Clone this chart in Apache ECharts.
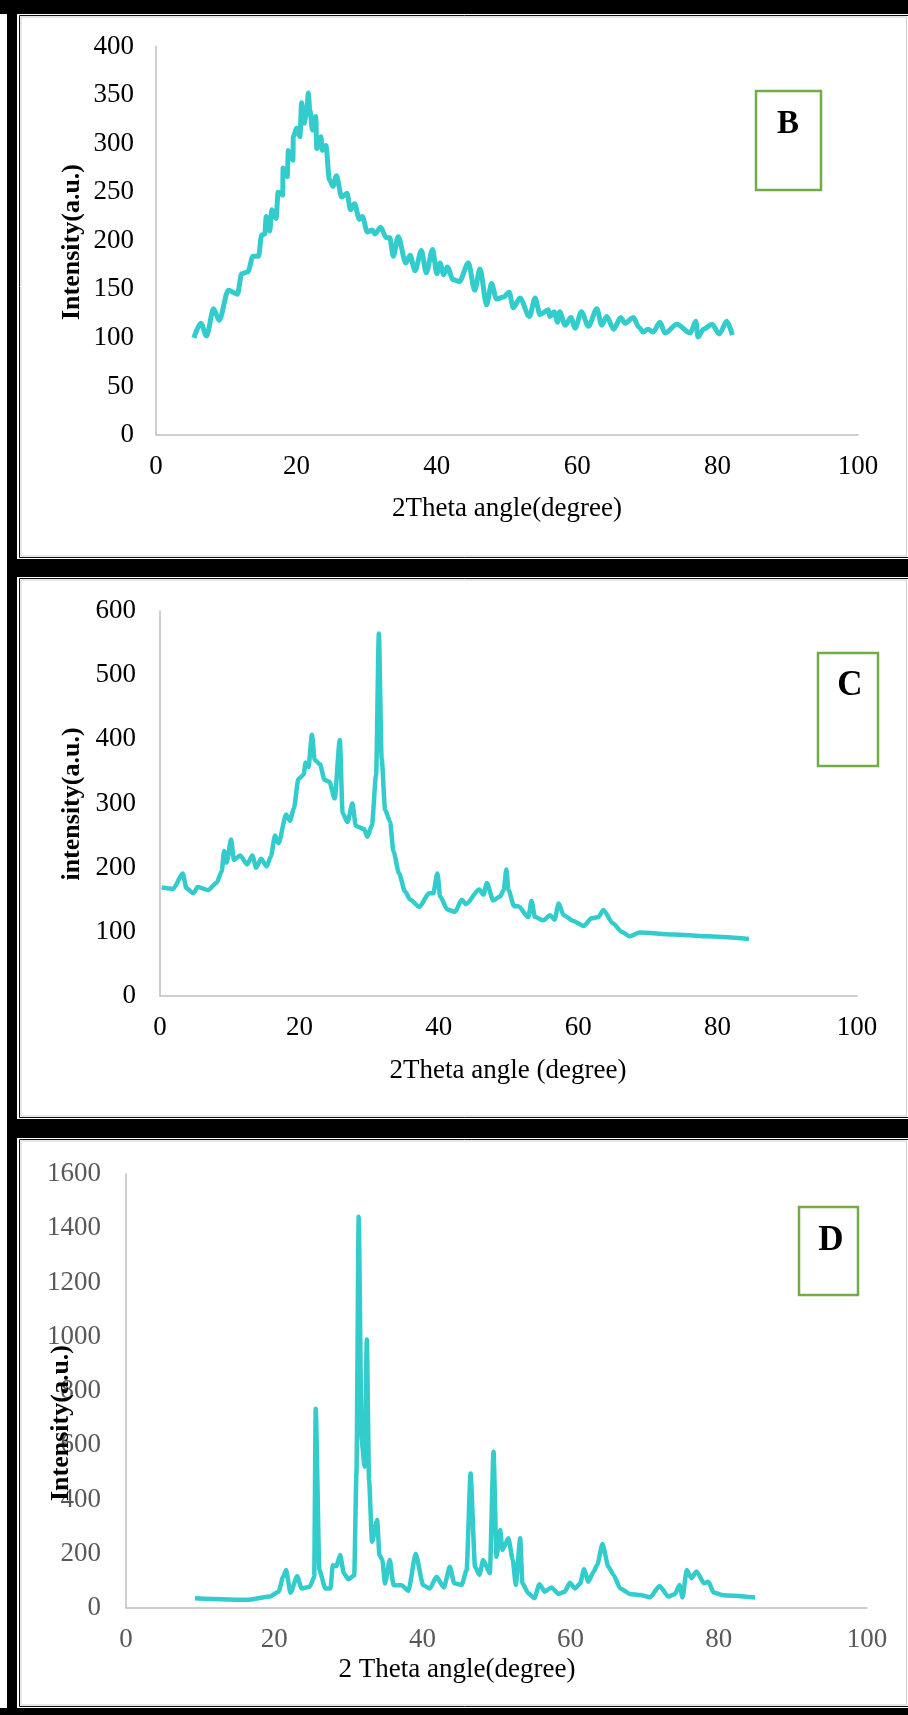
<!DOCTYPE html>
<html>
<head>
<meta charset="utf-8">
<script src="https://cdn.jsdelivr.net/npm/echarts@6/dist/echarts.min.js"></script>
<style>
html,body{margin:0;padding:0;background:#000;}
#chart{width:908px;height:1715px;}
</style>
</head>
<body>
<div id="chart"></div>
<script>
// ---------- Data ----------
const xTicks = [0, 20, 40, 60, 80, 100];

const bAngle = [5.4,6.4,7.2,8.2,9.0,10.3,11.6,12.2,13.1,13.8,14.6,15.05,15.5,15.7,16.2,16.5,17.1,17.4,18.05,18.1,18.7,18.85,19.5,19.56,20.04,20.5,20.75,21.1,21.5,21.7,21.9,22.3,22.75,22.9,23.5,23.7,24.2,24.7,25.2,25.7,26.45,27.2,27.7,28.3,28.96,29.4,30.1,30.8,31.2,32.0,32.8,33.3,33.8,34.5,35.6,36.2,36.9,37.8,38.5,39.4,40.0,40.45,41.0,41.5,42.3,43.2,44.5,45.4,46.15,47.1,47.8,48.5,49.5,50.3,50.9,51.85,53.2,54.0,54.7,55.9,56.1,56.7,57.2,57.5,58.3,59.1,59.7,60.6,61.6,62.8,63.5,64.2,65.2,66.2,66.8,68.0,68.8,69.4,70.1,70.8,71.8,72.5,74.2,76.1,76.9,77.2,78.0,79.2,80.25,81.3,82.1];
const bIntensity = [100,115,102,130,118,149,145,166,168,184,184,206,207,225,210,232,223,250,247,275,266,293,283,307,316,307,342,321,335,352,335,314,328,295,307,293,298,263,256,267,245,249,232,238,222,225,209,211,207,214,203,203,184,204,177,185,169,190,167,191,166,177,165,173,160,158,177,149,171,134,156,140,142,147,131,141,122,141,124,129,122,127,116,127,113,121,110,127,112,130,113,122,109,121,115,121,111,106,109,106,116,105,114,105,117,101,109,114,104,117,103];

const cAngle = [0.24,1.9,3.25,3.8,4.8,5.4,6.9,8.1,8.85,9.2,9.56,10.2,10.6,11.5,12.5,13.25,13.8,14.5,15.3,15.9,16.5,17.0,18.1,18.65,19.2,19.85,20.6,20.9,21.3,21.8,22.2,22.95,23.6,24.3,25.06,25.8,26.2,26.9,27.6,28.1,29.3,29.75,30.4,31.0,31.4,31.8,32.3,33.0,33.5,34.3,35.15,35.9,37.2,38.6,39.2,39.8,40.2,41.2,42.3,43.3,43.9,45.8,46.4,46.9,47.8,48.8,49.3,49.7,50.0,50.8,51.4,52.85,53.3,53.8,55.0,55.96,56.6,57.2,57.9,59.3,60.8,61.9,62.9,63.6,65.0,66.25,67.35,68.8,73.6,78.4,84.5];
const cIntensity = [169,167,191,168,160,170,165,176,194,226,208,244,212,219,205,219,200,214,202,217,250,238,283,273,292,338,345,364,357,407,368,361,337,334,308,399,285,271,300,265,260,248,266,344,565,370,290,272,225,191,163,150,139,160,160,191,155,135,131,150,143,166,158,176,149,155,165,197,165,140,140,123,148,123,118,126,119,144,126,117,109,121,123,134,113,100,93,99,96,93,89];

const dAngle = [9.3,16.3,19.4,20.6,21.2,21.6,22.2,23.1,23.7,24.8,25.4,25.6,26.1,26.9,27.6,27.9,28.4,28.9,29.4,30.0,30.8,31.1,31.4,31.8,32.2,32.5,32.8,33.2,33.9,34.2,34.6,34.95,35.6,36.1,37.2,38.1,39.1,40.1,41.0,41.9,42.9,43.7,44.3,45.3,45.97,46.5,47.1,47.7,48.2,49.1,49.6,50.0,50.5,50.8,51.6,52.2,52.6,53.2,53.5,54.3,55.1,55.8,56.5,57.4,58.4,59.2,59.9,60.6,61.3,61.8,62.4,63.1,63.6,64.3,65.1,65.8,66.7,68.0,69.4,70.7,72.0,73.2,74.1,74.7,75.1,75.67,76.3,77.0,78.0,78.6,79.3,80.6,84.9];
const dIntensity = [36,30,42,60,115,140,56,117,72,78,115,735,140,72,72,158,154,195,128,106,121,496,1442,619,521,990,472,244,324,195,177,90,177,84,84,63,200,84,72,115,76,152,91,85,140,496,152,122,177,128,576,189,288,214,257,177,85,257,91,54,36,88,60,76,52,60,93,72,91,143,97,134,159,236,152,122,72,52,48,39,81,42,52,85,39,140,110,135,91,97,57,47,39];

const panelLabels = ['B', 'C', 'D'];
const xTitles = ['2Theta angle(degree)', '2Theta angle (degree)', '2 Theta angle(degree)'];
const yTitles = ['Intensity(a.u.)', 'intensity(a.u.)', 'Intensity(a.u.)'];
const yMax = [400, 600, 1600];
const yStep = [50, 100, 200];

// ---------- Chart ----------
const pairs = (xs, ys) => xs.map((x, i) => [x, ys[i]]);
const FONT = '"Liberation Serif", "Times New Roman", serif';
const LINE = '#33cccc';
const plain = v => String(v);

const grids = [
  {left: 156, right: 50, top: 46.5, bottom: 1280},
  {left: 160, right: 51, top: 611, bottom: 719},
  {left: 126, right: 41, top: 1174, bottom: 107}
];
const labelColors = ['#000000', '#000000', '#595959'];
const yMargins = [22, 24, 25];

const xAxes = grids.map((g, i) => ({
  type: 'value', gridIndex: i, min: xTicks[0], max: xTicks[xTicks.length - 1], interval: xTicks[1] - xTicks[0],
  axisLine: {show: true, lineStyle: {color: '#bfbfbf', width: 1.5}},
  axisTick: {show: false}, splitLine: {show: false},
  axisLabel: {fontFamily: FONT, fontSize: 27, color: labelColors[i], margin: 18, formatter: plain}
}));
const yAxes = grids.map((g, i) => ({
  type: 'value', gridIndex: i, min: 0, max: yMax[i], interval: yStep[i],
  axisLine: {show: true, lineStyle: {color: '#bfbfbf', width: 1.5}},
  axisTick: {show: false}, splitLine: {show: false},
  axisLabel: {fontFamily: FONT, fontSize: 27, color: labelColors[i], margin: yMargins[i], formatter: plain}
}));

const series = [
  {type: 'line', xAxisIndex: 0, yAxisIndex: 0, data: pairs(bAngle, bIntensity), smooth: 0.3, smoothMonotone: 'x', showSymbol: false, lineStyle: {color: LINE, width: 5}},
  {type: 'line', xAxisIndex: 1, yAxisIndex: 1, data: pairs(cAngle, cIntensity), smooth: 0.25, smoothMonotone: 'x', showSymbol: false, lineStyle: {color: LINE, width: 4.5}},
  {type: 'line', xAxisIndex: 2, yAxisIndex: 2, data: pairs(dAngle, dIntensity), smooth: 0.2, smoothMonotone: 'x', showSymbol: false, lineStyle: {color: LINE, width: 4.5}}
];

// panel frames
const panels = [[14, 545], [577, 542], [1138, 570]];
const graphics = [
  {type: 'rect', z: -10, shape: {x: 0, y: 14, width: 7, height: 1694}, style: {fill: '#fff'}}
];
panels.forEach(([top, h]) => {
  graphics.push({type: 'rect', z: -10, shape: {x: 17, y: top, width: 891, height: h}, style: {fill: '#fff'}});
  graphics.push({type: 'rect', z: -9, shape: {x: 19.5, y: top + 1.5, width: 900, height: h - 3}, style: {fill: null, stroke: '#111', lineWidth: 1}});
  graphics.push({type: 'rect', z: -9, shape: {x: 21, y: top + 3, width: 885.5, height: h - 6}, style: {fill: null, stroke: '#cfcfcf', lineWidth: 1}});
});

// label boxes
const boxes = [
  {x: 756, y: 91, w: 65, h: 99, cx: 788, cy: 124, fs: 33},
  {x: 818, y: 653, w: 60, h: 113, cx: 850, cy: 686, fs: 35},
  {x: 799, y: 1207, w: 59, h: 88, cx: 831, cy: 1241, fs: 35}
];
boxes.forEach((b, i) => {
  graphics.push({type: 'rect', z: 50, shape: {x: b.x, y: b.y, width: b.w, height: b.h}, style: {fill: '#fff', stroke: '#70ad47', lineWidth: 2.5}});
  graphics.push({type: 'text', z: 51, x: b.cx, y: b.cy, style: {text: panelLabels[i], font: 'bold ' + b.fs + 'px ' + FONT, fill: '#000', textAlign: 'center', textVerticalAlign: 'middle'}});
});

// axis titles
const xTitlePos = [[507, 509], [508, 1071], [457, 1670]];
const yTitlePos = [[72, 242], [72, 804], [61, 1423]];
xTitlePos.forEach((p, i) => {
  graphics.push({type: 'text', z: 60, x: p[0], y: p[1], style: {text: xTitles[i], font: '27px ' + FONT, fill: '#000', textAlign: 'center', textVerticalAlign: 'middle'}});
});
yTitlePos.forEach((p, i) => {
  graphics.push({type: 'text', z: 60, x: p[0], y: p[1], rotation: Math.PI / 2, style: {text: yTitles[i], font: 'bold 26px ' + FONT, fill: '#000', textAlign: 'center', textVerticalAlign: 'middle'}});
});

const chart = echarts.init(document.getElementById('chart'), null, {renderer: 'canvas'});
chart.setOption({
  backgroundColor: '#000',
  animation: false,
  grid: grids,
  xAxis: xAxes,
  yAxis: yAxes,
  series: series,
  graphic: {elements: graphics}
});
</script>
</body>
</html>
